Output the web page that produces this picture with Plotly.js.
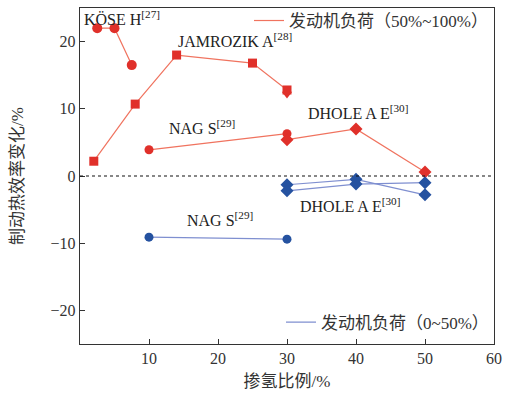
<!DOCTYPE html>
<html><head><meta charset="utf-8">
<script src="https://cdn.plot.ly/plotly-3.0.1.min.js"></script>
<style>body{margin:0;background:#fff}#c{width:510px;height:394px}</style>
</head><body><div id="c"></div>
<script>
// Red (engine load 50%~100%)
const koseX = [2.5, 5, 7.5];
const koseY = [22, 22, 16.5];
const jamX = [2, 8, 14, 25, 30];
const jamY = [2.2, 10.7, 18, 16.8, 12.8];
const jamTriX = [30];
const jamTriY = [12.2];
const nagRedX = [10, 30];
const nagRedY = [3.9, 6.3];
const dholeRedX = [30, 40, 50];
const dholeRedY = [5.4, 7.0, 0.6];
// Blue (engine load 0~50%)
const nagBlueX = [10, 30];
const nagBlueY = [-9.1, -9.4];
const dholeBlueAX = [30, 40, 50];
const dholeBlueAY = [-1.3, -0.5, -2.8];
const dholeBlueBX = [30, 40, 50];
const dholeBlueBY = [-2.2, -1.2, -1.0];
const xTicks = [10, 20, 30, 40, 50, 60];
const yTicks = [-20, -10, 0, 10, 20];
const legendRed = '发动机负荷（50%~100%）';
const legendBlue = '发动机负荷（0~50%）';

const RED = '#e0302a', REDL = '#f0735f', BLUE = '#2552a0', BLUEL = '#7f8fd0';
function tr(x, y, sym, c, lc, size) {
  return {x, y, type:'scatter', mode:'lines+markers', showlegend:false, hoverinfo:'skip',
    line:{color:lc, width:1.2}, marker:{symbol:sym, color:c, size:size||9}};
}
const data = [
  tr(koseX, koseY, 'circle', RED, REDL, 10),
  tr(jamX, jamY, 'square', RED, REDL, 9),
  {x:jamTriX, y:jamTriY, type:'scatter', mode:'markers', showlegend:false, marker:{symbol:'triangle-down', color:RED, size:9}},
  tr(nagRedX, nagRedY, 'circle', RED, REDL, 9),
  tr(dholeRedX, dholeRedY, 'diamond', RED, REDL, 10),
  tr(nagBlueX, nagBlueY, 'circle', BLUE, BLUEL, 9),
  tr(dholeBlueAX, dholeBlueAY, 'diamond', BLUE, BLUEL, 10),
  tr(dholeBlueBX, dholeBlueBY, 'diamond', BLUE, BLUEL, 10),
  {x:[null], y:[null], type:'scatter', mode:'lines', name:legendRed, line:{color:REDL, width:1.2}, legend:'legend'},
  {x:[null], y:[null], type:'scatter', mode:'lines', name:legendBlue, line:{color:BLUEL, width:1.2}, legend:'legend2'}
];
const serif = 'Liberation Serif, Noto Sans CJK SC, serif';
const labFont = {family:serif, size:16, color:'#222'};
function lab(text, x, y) {
  return {text, x, y, xref:'paper', yref:'paper', xanchor:'left', yanchor:'middle', showarrow:false, font:labFont};
}
// convert pixel positions to paper coords (plot area: x 80..494, y 8..344)
function px(xp){return (xp-80)/414;} function py(yp){return (344-yp)/336;}
const layout = {
  width:510, height:394, margin:{l:80, r:16, t:8, b:50, autoexpand:false},
  paper_bgcolor:'#fff', plot_bgcolor:'#fff',
  font:{family:serif, size:15, color:'#333'},
  xaxis:{range:[0,60], tickvals:xTicks, ticks:'inside', ticklen:5, tickcolor:'#333', showline:true, linecolor:'#333', linewidth:1.2, mirror:true, showgrid:false, zeroline:false, automargin:false,
    tickfont:{family:serif, size:16, color:'#333'},
    title:{text:'掺氢比例/%', font:{family:serif, size:17, color:'#333'}, standoff:8}},
  yaxis:{range:[-25,25], tickvals:yTicks, ticks:'inside', ticklen:5, tickcolor:'#333', showline:true, linecolor:'#333', linewidth:1.2, mirror:true, showgrid:false, zeroline:false, automargin:false,
    tickfont:{family:serif, size:16, color:'#333'},
    title:{text:'制动热效率变化/%', font:{family:serif, size:17, color:'#333'}, standoff:22}},
  shapes:[{type:'line', xref:'paper', x0:0, x1:1, yref:'y', y0:0, y1:0, line:{color:'#111', width:1.2, dash:'dot'}}],
  legend:{x:1, xanchor:'right', y:1.015, yanchor:'top', bgcolor:'rgba(0,0,0,0)', font:{family:serif, size:17, color:'#333'}, itemwidth:30},
  legend2:{x:1, xanchor:'right', y:0.01, yanchor:'bottom', bgcolor:'rgba(0,0,0,0)', font:{family:serif, size:17, color:'#333'}, itemwidth:30},
  annotations:[
    lab('KÖSE H<sup>[27]</sup>', px(82), py(18)),
    lab('JAMROZIK A<sup>[28]</sup>', px(176), py(40)),
    lab('NAG S<sup>[29]</sup>', px(167), py(127)),
    lab('DHOLE A E<sup>[30]</sup>', px(306), py(112)),
    lab('DHOLE A E<sup>[30]</sup>', px(298), py(205)),
    lab('NAG S<sup>[29]</sup>', px(185), py(219))
  ]
};
Plotly.newPlot('c', data, layout, {staticPlot:true, displayModeBar:false});
</script></body></html>
